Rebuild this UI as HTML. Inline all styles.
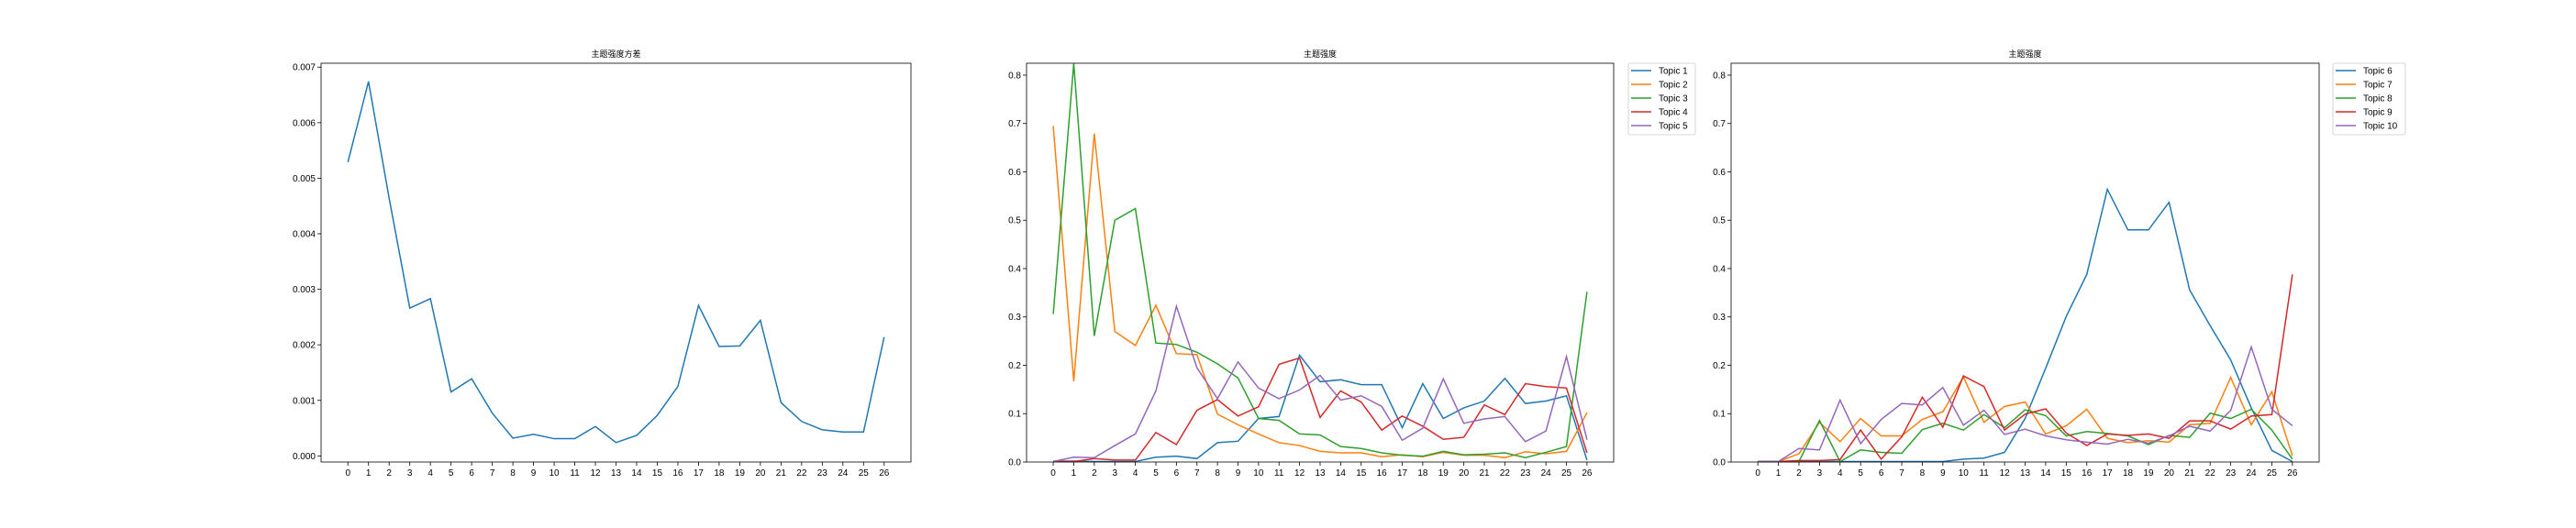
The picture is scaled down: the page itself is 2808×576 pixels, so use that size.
<!DOCTYPE html>
<html><head><meta charset="utf-8"><style>
body{margin:0;background:#fff}
svg{display:block}
text{font-family:"Liberation Sans","DejaVu Sans",sans-serif;fill:#000}
.t{font-family:"Liberation Sans","Noto Sans CJK SC",sans-serif;font-size:9px}
</style></head><body>
<svg id="c" width="2808" height="576" xmlns="http://www.w3.org/2000/svg"></svg>
<script>
const xCats=[];for(let i=0;i<=26;i++)xCats.push(i);
const variance=[0.00529,0.00674,0.00464,0.00266,0.00283,0.00115,0.00139,0.00077,0.00032,0.00039,0.00031,0.00031,0.00053,0.00024,0.00037,0.00073,0.00125,0.00271,0.00197,0.00198,0.00244,0.00096,0.00062,0.00047,0.00043,0.00043,0.00214];
const varTicks=[0,0.001,0.002,0.003,0.004,0.005,0.006,0.007];
const intTicks=[0,0.1,0.2,0.3,0.4,0.5,0.6,0.7,0.8];
const topic1=[0.002,0.002,0.001,0.001,0.001,0.010,0.012,0.007,0.040,0.043,0.090,0.094,0.221,0.166,0.170,0.160,0.160,0.071,0.162,0.090,0.112,0.126,0.173,0.121,0.126,0.137,0.004];
const topic2=[0.695,0.167,0.679,0.270,0.241,0.324,0.224,0.222,0.099,0.077,0.058,0.040,0.034,0.022,0.019,0.019,0.011,0.015,0.011,0.020,0.014,0.014,0.009,0.021,0.017,0.022,0.102];
const topic3=[0.306,0.824,0.261,0.500,0.524,0.246,0.243,0.227,0.203,0.174,0.090,0.086,0.058,0.056,0.032,0.028,0.019,0.014,0.012,0.022,0.015,0.016,0.019,0.009,0.020,0.032,0.352];
const topic4=[0.001,0.001,0.007,0.004,0.004,0.061,0.036,0.107,0.129,0.095,0.114,0.202,0.215,0.092,0.147,0.124,0.066,0.095,0.074,0.047,0.051,0.118,0.098,0.162,0.156,0.153,0.019];
const topic5=[0.001,0.010,0.009,0.034,0.058,0.147,0.322,0.195,0.131,0.207,0.153,0.131,0.149,0.179,0.128,0.137,0.115,0.045,0.070,0.172,0.080,0.089,0.094,0.042,0.064,0.218,0.046];
const topic6=[0.001,0.001,0.001,0.001,0.001,0.001,0.001,0.001,0.001,0.001,0.006,0.008,0.020,0.090,0.194,0.301,0.388,0.564,0.480,0.480,0.537,0.356,0.282,0.211,0.112,0.024,0.001];
const topic7=[0.001,0.001,0.017,0.082,0.042,0.090,0.054,0.054,0.088,0.104,0.176,0.082,0.115,0.124,0.058,0.075,0.109,0.049,0.040,0.044,0.041,0.077,0.080,0.175,0.077,0.145,0.013];
const topic8=[0.001,0.001,0.001,0.086,0.001,0.025,0.020,0.018,0.067,0.080,0.066,0.098,0.071,0.108,0.096,0.054,0.063,0.059,0.054,0.036,0.055,0.051,0.101,0.090,0.109,0.066,0.006];
const topic9=[0.001,0.001,0.003,0.003,0.005,0.066,0.006,0.052,0.134,0.072,0.178,0.156,0.066,0.099,0.110,0.060,0.034,0.058,0.055,0.058,0.049,0.085,0.085,0.068,0.095,0.098,0.388];
const topic10=[0.001,0.001,0.028,0.025,0.128,0.038,0.088,0.121,0.118,0.154,0.076,0.107,0.057,0.068,0.054,0.046,0.041,0.037,0.047,0.039,0.054,0.074,0.064,0.107,0.238,0.109,0.075];
const colors=['#1f77b4','#ff7f0e','#2ca02c','#d62728','#9467bd'];
const svg=document.getElementById('c');
const NS='http://www.w3.org/2000/svg';
function mk(tag,attrs,parent){const e=document.createElementNS(NS,tag);for(const k in attrs)e.setAttribute(k,attrs[k]);(parent||svg).appendChild(e);return e;}
function axes(name,L,R,T,B,ymin,ymax,yticks,fmt,title,series,names,legend){
  const g=mk('g',{});
  
  
  const xmin=-1.3,xmax=27.3;
  const sx=v=>L+(v-xmin)/(xmax-xmin)*(R-L);
  const sy=v=>B-(v-ymin)/(ymax-ymin)*(B-T);
  const tt=mk('text',{x:(L+R)/2,y:T-7,'text-anchor':'middle','class':'t'},g);tt.textContent=title;
  
  
  xCats.forEach(c=>{const x=sx(c);mk('line',{x1:x,x2:x,y1:B,y2:B+4,stroke:'#000','stroke-width':0.8},g);
    const t=mk('text',{x:x,y:B+15,'text-anchor':'middle','font-size':10},g);t.textContent=c;
    
    });
  yticks.forEach(v=>{const y=sy(v);mk('line',{x1:L-4,x2:L,y1:y,y2:y,stroke:'#000','stroke-width':0.8},g);
    const t=mk('text',{x:L-6,y:y+3.5,'text-anchor':'end','font-size':10},g);t.textContent=fmt(v);
    
    });
  series.forEach((s,i)=>{const p=mk('polyline',{points:s.map((v,j)=>sx(xCats[j])+','+sy(v)).join(' '),fill:'none',stroke:colors[i],'stroke-width':1.5},g);
    
    });
  mk('rect',{x:L,y:T,width:R-L,height:B-T,fill:'none',stroke:'#000','stroke-width':0.8},g);
  if(names){const lg=mk('g',{},g);
    
    
    mk('rect',{x:legend,y:69,width:legend==2543?79:73,height:78,rx:2,fill:'#fff',stroke:'#ccc','stroke-width':0.8},lg);
    names.forEach((n,i)=>{const y=77+i*15;mk('line',{x1:legend+3,x2:legend+25,y1:y,y2:y,stroke:colors[i],'stroke-width':1.5},lg);
      const t=mk('text',{x:legend+33,y:y+3.5,'font-size':10},lg);t.textContent=n;
      
      });}
}
axes('variance-chart',350,993,69,504,-0.00011,0.00707,varTicks,v=>v.toFixed(3),'主题强度方差',[variance],null);
axes('topics-1-5-chart',1119,1759,69,504,0,0.8246,intTicks,v=>v.toFixed(1),'主题强度',[topic1,topic2,topic3,topic4,topic5],['Topic 1','Topic 2','Topic 3','Topic 4','Topic 5'],1775);
axes('topics-6-10-chart',1887,2528,69,504,0,0.8246,intTicks,v=>v.toFixed(1),'主题强度',[topic6,topic7,topic8,topic9,topic10],['Topic 6','Topic 7','Topic 8','Topic 9','Topic 10'],2543);
</script>
</body></html>
